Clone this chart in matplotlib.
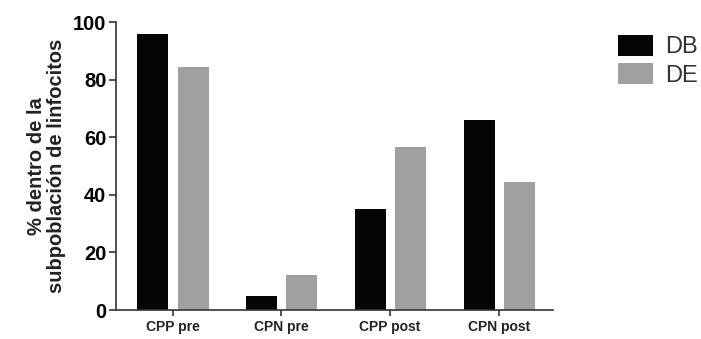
import numpy as np
import matplotlib.pyplot as plt

plt.rcParams['font.family'] = ['Liberation Sans', 'DejaVu Sans']

categories = ['CPP pre', 'CPN pre', 'CPP post', 'CPN post']
db_values = [96, 5, 35, 66]
de_values = [84.5, 12, 56.7, 44.5]
series_names = ['DB', 'DE']

fig = plt.figure(figsize=(7.01, 3.39), dpi=100)
ax = fig.add_axes([0.1655, 0.0855, 0.6235, 0.8495])

x = np.arange(len(categories))
w = 0.285
ax.bar(x - 0.18, db_values, w, color='#050505', label=series_names[0])
ax.bar(x + 0.19, de_values, w, color='#a0a0a2', label=series_names[1])

ax.set_xlim(-0.52, 3.5)
ax.set_ylim(0, 100)
ax.set_yticks(np.arange(0, 101, 20))
ax.set_xticks(x)
ax.set_xticklabels(categories, fontsize=10, fontweight='bold', color='#222222')
ax.tick_params(axis='y', labelsize=14.5, width=1.2, length=5, color='#333333', pad=2)
for lab in ax.get_yticklabels():
    lab.set_fontweight('bold')
ax.tick_params(axis='x', width=1.2, length=4, color='#333333', pad=3)

for side in ['top', 'right']:
    ax.spines[side].set_visible(False)
for side in ['left', 'bottom']:
    ax.spines[side].set_linewidth(1.2)
    ax.spines[side].set_color('#333333')

ax.set_ylabel('% dentro de la\nsubpoblación de linfocitos', fontsize=14.5,
              fontweight='bold', color='#222222', linespacing=1.05, labelpad=5)

ax.legend(loc='upper left', bbox_to_anchor=(1.1, 1.03), frameon=False,
          fontsize=17, handlelength=1.5, handleheight=1.0, handletextpad=0.5,
          labelspacing=0.2, labelcolor='#333333')

fig.savefig('out.png', dpi=100)
